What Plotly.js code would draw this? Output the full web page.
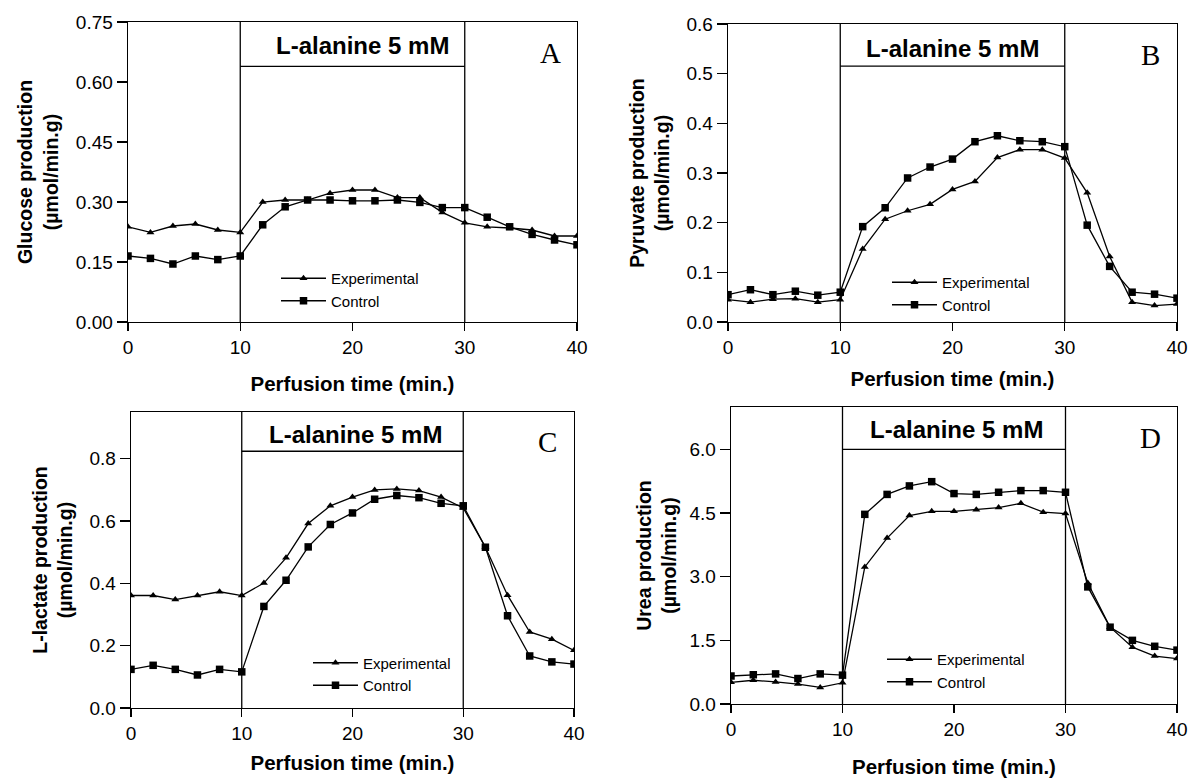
<!DOCTYPE html>
<html><head><meta charset="utf-8">
<script src="https://cdn.plot.ly/plotly-3.0.1.min.js"></script>
<style>html,body{margin:0;padding:0;background:#fff}#chart{width:1188px;height:778px}</style>
</head><body><div id="chart"></div>
<script>
const timeMin = [0,2,4,6,8,10,12,14,16,18,20,22,24,26,28,30,32,34,36,38,40];
const seriesNames = ['Experimental','Control'];
const glucoseExperimental = [0.238,0.224,0.240,0.245,0.230,0.224,0.300,0.305,0.305,0.322,0.330,0.330,0.311,0.311,0.274,0.248,0.238,0.235,0.230,0.215,0.215];
const glucoseControl      = [0.165,0.159,0.145,0.165,0.156,0.165,0.243,0.288,0.305,0.305,0.303,0.303,0.305,0.299,0.286,0.286,0.262,0.238,0.219,0.205,0.193];
const pyruvateExperimental = [0.045,0.040,0.046,0.047,0.040,0.045,0.147,0.207,0.224,0.237,0.267,0.283,0.331,0.347,0.347,0.330,0.260,0.132,0.040,0.033,0.036];
const pyruvateControl      = [0.055,0.065,0.055,0.062,0.054,0.060,0.192,0.230,0.290,0.312,0.328,0.363,0.375,0.365,0.363,0.353,0.195,0.112,0.060,0.056,0.048];
const lactateExperimental = [0.361,0.361,0.348,0.361,0.373,0.361,0.401,0.482,0.592,0.649,0.677,0.700,0.703,0.698,0.677,0.642,0.516,0.362,0.244,0.221,0.185];
const lactateControl      = [0.124,0.137,0.124,0.106,0.124,0.116,0.326,0.410,0.517,0.589,0.626,0.670,0.682,0.675,0.657,0.649,0.516,0.296,0.167,0.148,0.141];
const ureaExperimental = [0.51,0.56,0.52,0.47,0.39,0.50,3.23,3.91,4.44,4.54,4.54,4.58,4.63,4.73,4.52,4.49,2.85,1.81,1.34,1.13,1.07];
const ureaControl      = [0.66,0.69,0.71,0.60,0.71,0.68,4.47,4.94,5.14,5.24,4.96,4.94,4.99,5.03,5.03,4.99,2.76,1.81,1.50,1.36,1.27];
const yTitles = ['Glucose production<br>(µmol/min.g)','Pyruvate production<br>(µmol/min.g)','L-lactate production<br>(µmol/min.g)','Urea production<br>(µmol/min.g)'];
const xTitle = 'Perfusion time (min.)';
const panelLetters = ['A','B','C','D'];
const infusionLabel = 'L-alanine 5 mM';
const infusionStart = 10, infusionEnd = 30;
const xTicks = [0,10,20,30,40];

const SANS = 'Arial, "Liberation Sans", sans-serif';
const SERIF = '"Times New Roman", "Liberation Serif", serif';

const panels = [
  {exp: glucoseExperimental, ctl: glucoseControl, yr:[0,0.75], dtick:0.15, fmt:'.2f', barY:0.639, labelY:0.692, labelShift:10,
   xd:[128/1188,577/1188], yd:[1-322/778,1-22/778], legend:{x:276/1188,y:1-262/778}, xs:19, ys:12},
  {exp: pyruvateExperimental, ctl: pyruvateControl, yr:[0,0.6], dtick:0.1, fmt:'.1f', barY:0.515, labelY:0.551, labelShift:0,
   xd:[728/1188,1177/1188], yd:[1-322/778,1-24/778], legend:{x:887/1188,y:1-266/778}, xs:14, ys:11},
  {exp: lactateExperimental, ctl: lactateControl, yr:[0,0.95], dtick:0.2, fmt:'.1f', barY:0.824, labelY:0.877, labelShift:3,
   xd:[131/1188,574/1188], yd:[1-708/778,1-412/778], legend:{x:308/1188,y:1-646.5/778}, xs:12, ys:11},
  {exp: ureaExperimental, ctl: ureaControl, yr:[0,7], dtick:1.5, fmt:'.1f', barY:6.0, labelY:6.48, labelShift:3,
   xd:[731/1188,1177/1188], yd:[1-704/778,1-407/778], legend:{x:882/1188,y:1-643/778}, xs:20, ys:7}
];

const traces = [];
const layout = {
  width:1188, height:778, paper_bgcolor:'#fff', plot_bgcolor:'#fff',
  margin:{l:0,r:0,t:0,b:0}, showlegend:true,
  font:{family:SANS, color:'#000'},
  shapes:[], annotations:[]
};

panels.forEach((p,i)=>{
  const n = i+1;
  const xa = n===1?'x':'x'+n, ya = n===1?'y':'y'+n;
  const lg = n===1?'legend':'legend'+n;
  const line = {color:'#000', width:1.3};
  traces.push({x:timeMin, y:p.exp, name:seriesNames[0], type:'scatter', mode:'lines+markers', xaxis:xa, yaxis:ya, legend:lg,
    line:line, marker:{symbol:'triangle-up', size:7, color:'#000'}});
  traces.push({x:timeMin, y:p.ctl, name:seriesNames[1], type:'scatter', mode:'lines+markers', xaxis:xa, yaxis:ya, legend:lg,
    line:line, marker:{symbol:'square', size:7.5, color:'#000'}});
  const axBase = {showline:true, linecolor:'#000', linewidth:1.4, mirror:true, showgrid:false, zeroline:false,
    ticks:'outside', tickcolor:'#000', tickwidth:1.3, tickfont:{family:SANS, size:19, color:'#000'}, automargin:false};
  layout[n===1?'xaxis':'xaxis'+n] = Object.assign({}, axBase, {domain:p.xd, anchor:ya, range:[0,40], tickvals:xTicks, ticklen:8,
    title:{text:xTitle, font:{family:SANS, size:20.5, weight:'bold', color:'#000'}, standoff:p.xs}});
  layout[n===1?'yaxis':'yaxis'+n] = Object.assign({}, axBase, {domain:p.yd, anchor:xa, range:p.yr, dtick:p.dtick, tick0:0, tickformat:p.fmt, ticklen:10,
    title:{text:yTitles[i], font:{family:SANS, size:19.5, weight:'bold', color:'#000'}, standoff:p.ys}});
  layout[lg] = {x:p.legend.x, y:p.legend.y, xanchor:'left', yanchor:'top', bgcolor:'rgba(0,0,0,0)', borderwidth:0,
    font:{family:SANS, size:15, color:'#000'}, tracegroupgap:0, itemwidth:45};
  const lineStyle = {color:'#000', width:1.3};
  layout.shapes.push({type:'line', xref:xa, yref:ya+' domain', x0:infusionStart, x1:infusionStart, y0:0, y1:1, line:lineStyle});
  layout.shapes.push({type:'line', xref:xa, yref:ya+' domain', x0:infusionEnd, x1:infusionEnd, y0:0, y1:1, line:lineStyle});
  layout.shapes.push({type:'line', xref:xa, yref:ya, x0:infusionStart, x1:infusionEnd, y0:p.barY, y1:p.barY, line:lineStyle});
  layout.annotations.push({xref:xa, yref:ya, x:(infusionStart+infusionEnd)/2, y:p.labelY, xshift:p.labelShift, text:infusionLabel, showarrow:false,
    xanchor:'center', yanchor:'middle', font:{family:SANS, size:24, weight:'bold', color:'#000'}});
  layout.annotations.push({xref:xa+' domain', yref:ya+' domain', x:0.94, y:0.897, text:panelLetters[i], showarrow:false,
    xanchor:'center', yanchor:'middle', font:{family:SERIF, size:29, color:'#000'}});
});

Plotly.newPlot('chart', traces, layout, {displayModeBar:false, staticPlot:true});
</script></body></html>
